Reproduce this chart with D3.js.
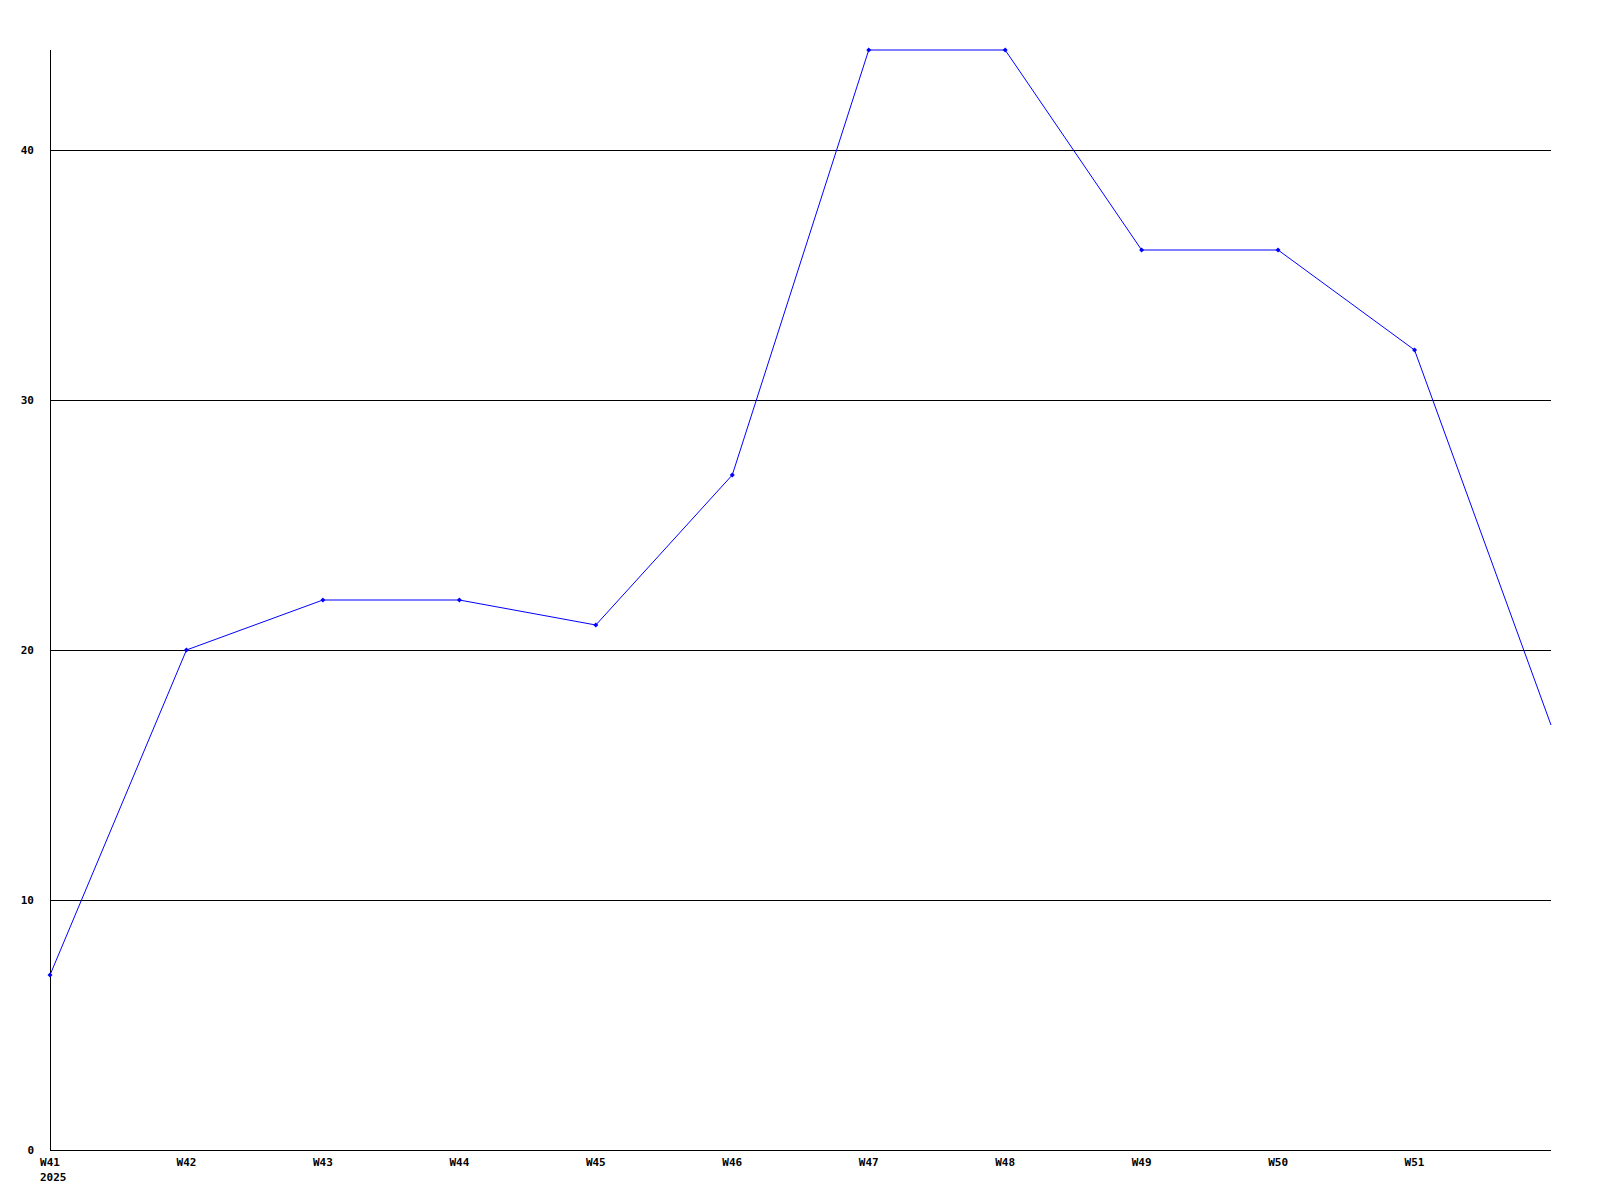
<!DOCTYPE html>
<html>
<head>
<meta charset="utf-8">
<script src="https://cdn.jsdelivr.net/npm/d3@7"></script>
<style>
  body { margin: 0; background: #fff; }
  text { font-family: "DejaVu Sans Mono", monospace; font-weight: bold; font-size: 11px; fill: #000; }
</style>
</head>
<body>
<svg id="chart" width="1600" height="1200"></svg>
<script>
var weeks = ["W41", "W42", "W43", "W44", "W45", "W46", "W47", "W48", "W49", "W50", "W51", "W52"];
var values = [7, 20, 22, 22, 21, 27, 44, 44, 36, 36, 32, 17];
var yTicks = [0, 10, 20, 30, 40];
var yearLabel = "2025";

var plotLeft = 50, plotRight = 1551, plotTop = 50, plotBottom = 1150;
var svg = d3.select("#chart");

var x = d3.scalePoint().domain(weeks).range([plotLeft, plotRight]);
var y = d3.scaleLinear().domain([0, 44]).range([plotBottom, plotTop]);

// grid lines
svg.append("g").selectAll("line")
    .data(yTicks.filter(function (d) { return d > 0; }))
    .enter().append("line")
    .attr("x1", plotLeft).attr("x2", plotRight)
    .attr("y1", function (d) { return y(d) + 0.5; })
    .attr("y2", function (d) { return y(d) + 0.5; })
    .attr("stroke", "#000")
    .attr("shape-rendering", "crispEdges");

// axes lines
svg.append("line")
    .attr("x1", plotLeft + 0.5).attr("x2", plotLeft + 0.5)
    .attr("y1", plotTop).attr("y2", plotBottom + 0.5)
    .attr("stroke", "#000").attr("shape-rendering", "crispEdges");
svg.append("line")
    .attr("x1", plotLeft).attr("x2", plotRight)
    .attr("y1", plotBottom + 0.5).attr("y2", plotBottom + 0.5)
    .attr("stroke", "#000").attr("shape-rendering", "crispEdges");

// y labels
svg.append("g").selectAll("text")
    .data(yTicks)
    .enter().append("text")
    .attr("x", 34)
    .attr("y", function (d) { return y(d) + 4; })
    .attr("text-anchor", "end")
    .text(function (d) { return d; });

// x labels (last week has no label)
svg.append("g").selectAll("text")
    .data(weeks.slice(0, weeks.length - 1))
    .enter().append("text")
    .attr("x", function (d) { return x(d); })
    .attr("y", 1166)
    .attr("text-anchor", "middle")
    .text(function (d) { return d; });

svg.append("text")
    .attr("x", 40)
    .attr("y", 1181)
    .text(yearLabel);

// series line
var data = weeks.map(function (w, i) { return { week: w, value: values[i] }; });
var line = d3.line()
    .x(function (d) { return x(d.week); })
    .y(function (d) { return y(d.value); });

svg.append("path")
    .datum(data)
    .attr("d", line)
    .attr("fill", "none")
    .attr("stroke", "#0000ff")
    .attr("stroke-width", 1);

// diamond markers
svg.append("g").selectAll("path")
    .data(data.slice(0, data.length - 1))
    .enter().append("path")
    .attr("d", function (d) {
      var cx = x(d.week), cy = y(d.value), r = 2.5;
      return "M" + cx + "," + (cy - r) + "L" + (cx + r) + "," + cy + "L" + cx + "," + (cy + r) + "L" + (cx - r) + "," + cy + "Z";
    })
    .attr("fill", "#0000ff");
</script>
</body>
</html>
